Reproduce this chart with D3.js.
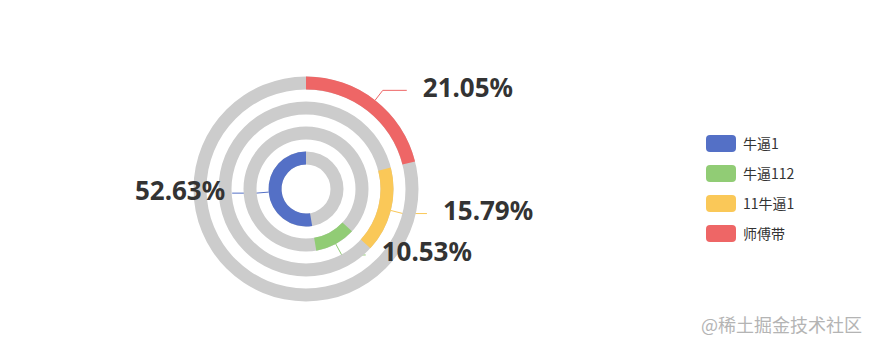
<!DOCTYPE html>
<html>
<head>
  <meta charset="utf-8">
  <script src="https://d3js.org/d3.v7.min.js"></script>
  <style>
    body {
      margin: 0;
      background-color: #fff;
      font-family: "Noto Sans", "Noto Sans CJK SC", sans-serif;
    }
  </style>
</head>
<body>
  <script type="text/javascript">
    // chart data
    var names = ["牛逼1", "牛逼112", "11牛逼1", "师傅带"];
    var values = [10, 2, 3, 4];
    var colors = ["#5470c6", "#91cc75", "#fac858", "#ee6666"];

    var width = 874,
        height = 350,
        cx = 306,
        cy = 189;

    var svg = d3.select("body")
        .append("svg")
        .attr("width", width)
        .attr("height", height);

    var total = d3.sum(values);

    // value -> angle, running counter-clockwise from 12 o'clock
    var angle = d3.scaleLinear()
        .domain([0, total])
        .range([2 * Math.PI, 0]);

    // one ring per item, inner to outer
    var ringOuter = d3.scaleLinear()
        .domain([0, names.length - 1])
        .range([37.5, 112.5]);
    var ringWidth = 13;

    var items = names.map(function (n, i) {
      var start = d3.sum(values.slice(0, i));
      return {
        name: n,
        value: values[i],
        color: colors[i],
        a0: angle(start + values[i]),
        a1: angle(start),
        r1: ringOuter(i),
        r0: ringOuter(i) - ringWidth
      };
    });

    var arc = d3.arc();
    var g = svg.append("g").attr("transform", "translate(" + cx + "," + cy + ")");

    // leader lines sit under the rings
    var len1 = 12.5, len2 = 24;
    items.forEach(function (d) {
      var mid = (d.a0 + d.a1) / 2;
      var sx = Math.sin(mid), sy = -Math.cos(mid);
      var p0 = [sx * d.r1, sy * d.r1];
      var p1 = [sx * (d.r1 + len1), sy * (d.r1 + len1)];
      var right = sx >= 0;
      var p2 = [p1[0] + (right ? len2 : -len2), p1[1]];
      d.p2 = p2;
      d.right = right;
      g.append("polyline")
          .attr("points", [p0, p1, p2].map(function (p) { return p.join(","); }).join(" "))
          .style("fill", "none")
          .style("stroke", d.color)
          .style("stroke-width", 1);
    });

    // grey tracks then coloured arcs
    items.forEach(function (d) {
      g.append("path")
          .attr("d", arc({ innerRadius: d.r0, outerRadius: d.r1, startAngle: 0, endAngle: 2 * Math.PI }))
          .style("fill", "#cccccc");
      g.append("path")
          .attr("d", arc({ innerRadius: d.r0, outerRadius: d.r1, startAngle: d.a0, endAngle: d.a1 }))
          .style("fill", d.color);
    });

    // percent labels
    items.forEach(function (d) {
      g.append("text")
          .attr("x", d.p2[0] + (d.right ? 16 : -7))
          .attr("y", d.p2[1] + 6.5)
          .style("text-anchor", d.right ? "start" : "end")
          .style("font-size", "26px")
          .style("font-weight", "bold")
          .style("fill", "#333")
          .text(d3.format(".2%")(d.value / total));
    });

    // legend
    var legend = svg.append("g").attr("transform", "translate(706,135)");
    var rows = legend.selectAll("g.row")
        .data(items)
        .enter()
        .append("g")
        .attr("class", "row")
        .attr("transform", function (d, i) { return "translate(0," + i * 30 + ")"; });
    rows.append("rect")
        .attr("width", 30)
        .attr("height", 17)
        .attr("rx", 4)
        .attr("ry", 4)
        .style("fill", function (d) { return d.color; });
    rows.append("text")
        .attr("x", 37)
        .attr("y", 13.5)
        .style("font-family", "'Noto Sans CJK SC', sans-serif")
        .style("font-size", "14px")
        .style("fill", "#333")
        .text(function (d) { return d.name; });

    // watermark
    svg.append("text")
        .attr("x", 701)
        .attr("y", 332)
        .style("font-family", "'Noto Sans CJK SC', sans-serif")
        .style("font-size", "18px")
        .style("fill", "#b4b4b4")
        .text("@稀土掘金技术社区");
  </script>
</body>
</html>
